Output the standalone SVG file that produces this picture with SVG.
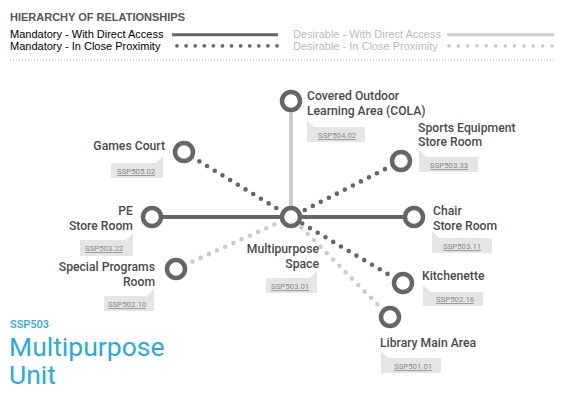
<svg xmlns="http://www.w3.org/2000/svg" width="565" height="400" viewBox="0 0 565 400">
<style>
.hdr{font-family:"Liberation Sans",Arial,sans-serif;font-weight:bold;font-size:10.5px;fill:#555}
.leg{font-family:"Liberation Sans",Arial,sans-serif;font-size:11px;fill:#000}
.legd{font-family:"Liberation Sans",Arial,sans-serif;font-size:11px;fill:#bbb}
.lbl{font-family:Roboto,"Liberation Sans",sans-serif;font-weight:500;font-size:12.2px;fill:#4a4a4a}
.tag{fill:#e5e5e5}
.tagt{font-family:Roboto,"Liberation Sans",sans-serif;font-size:7.8px;fill:#888;text-decoration:underline}
.node{fill:#fff;stroke:#666;stroke-width:4.5}
.mand{stroke:#666;stroke-width:4;fill:none}
.des{stroke:#ccc;stroke-width:4;fill:none}
.mdot{stroke:#666;stroke-width:4.6;stroke-linecap:round;stroke-dasharray:0 9;fill:none}
.ddot{stroke:#ccc;stroke-width:4.6;stroke-linecap:round;stroke-dasharray:0 9;fill:none}
.title{font-family:Roboto,"Liberation Sans",sans-serif;fill:#29abe2}
</style>

<g id="legend">
<text class="hdr" x="10" y="21" textLength="175" lengthAdjust="spacingAndGlyphs">HIERARCHY OF RELATIONSHIPS</text>
<text class="leg" x="10" y="37.5">Mandatory - With Direct Access</text>
<line x1="172" y1="34.7" x2="278" y2="34.7" stroke="#666" stroke-width="3"/>
<text class="leg" x="10" y="50">Mandatory - In Close Proximity</text>
<line x1="177" y1="45.8" x2="277" y2="45.8" stroke="#666" stroke-width="3.8" stroke-linecap="round" stroke-dasharray="0 9.0909"/>
<text class="legd" x="293" y="37.5">Desirable - With Direct Access</text>
<line x1="447" y1="34.7" x2="554" y2="34.7" stroke="#ccc" stroke-width="3"/>
<text class="legd" x="293" y="50">Desirable - In Close Proximity</text>
<line x1="449" y1="45.8" x2="552" y2="45.8" stroke="#ccc" stroke-width="3.8" stroke-linecap="round" stroke-dasharray="0 9.3636"/>
<line x1="10" y1="60" x2="555" y2="60" stroke="#aaa" stroke-width="1" stroke-dasharray="1 2"/>
</g>

<g id="connectors">
<line class="des" x1="291" y1="101" x2="291" y2="217"/>
<line class="mand" x1="152" y1="217" x2="291" y2="217"/>
<line class="mand" x1="414" y1="217" x2="291" y2="217"/>
<line class="mdot" x1="184" y1="152" x2="291" y2="217"/>
<line class="mdot" x1="401" y1="161" x2="291" y2="217"/>
<line class="mdot" x1="403" y1="283" x2="291" y2="217"/>
<line class="ddot" x1="176" y1="269" x2="291" y2="217"/>
<line class="ddot" x1="390" y1="317" x2="291" y2="217"/>
</g>

<g id="node-cola">
<circle class="node" cx="291" cy="101" r="9"/>
<text class="lbl" x="307" y="100">Covered Outdoor<tspan x="307" dy="14.5">Learning Area (COLA)</tspan></text>
<path class="tag" d="M307,120 L314,127 H365 V142 H307 Z"/>
<text class="tagt" x="318" y="138">SSP504.02</text>
</g>

<g id="node-games">
<circle class="node" cx="184" cy="152" r="9"/>
<text class="lbl" x="165" y="150" text-anchor="end">Games Court</text>
<path class="tag" d="M111,163 H156 L163,156 V178 H111 Z"/>
<text class="tagt" x="117" y="174">SSP505.02</text>
</g>

<g id="node-sports">
<circle class="node" cx="401" cy="161" r="9"/>
<text class="lbl" x="418" y="131.5">Sports Equipment<tspan x="418" dy="14.5">Store Room</tspan></text>
<path class="tag" d="M419,150 L426,157 H478 V172 H419 Z"/>
<text class="tagt" x="430" y="168">SSP503.33</text>
</g>

<g id="node-pe">
<circle class="node" cx="152" cy="217" r="9"/>
<text class="lbl" x="133" y="215.3" text-anchor="end">PE<tspan x="133" dy="14.5">Store Room</tspan></text>
<path class="tag" d="M80,240 H126 L133,233 V256 H80 Z"/>
<text class="tagt" x="85" y="251">SSP503.22</text>
</g>

<g id="node-chair">
<circle class="node" cx="414" cy="217" r="9"/>
<text class="lbl" x="433" y="215.3">Chair<tspan x="433" dy="14.5">Store Room</tspan></text>
<path class="tag" d="M432,231 L439,238 H492 V253 H432 Z"/>
<text class="tagt" x="443" y="249">SSP503.11</text>
</g>

<g id="node-center">
<circle class="node" cx="291" cy="217" r="9"/>
<text class="lbl" x="319" y="253.3" text-anchor="end">Multipurpose<tspan x="319" dy="14.5">Space</tspan></text>
<path class="tag" d="M266,278 H310 L317,271 V293 H266 Z"/>
<text class="tagt" x="271" y="289">SSP503.01</text>
</g>

<g id="node-special">
<circle class="node" cx="176" cy="269" r="9"/>
<text class="lbl" x="155" y="271.3" text-anchor="end">Special Programs<tspan x="155" dy="14.5">Room</tspan></text>
<path class="tag" d="M104,296 H147 L154,289 V311 H104 Z"/>
<text class="tagt" x="108" y="307">SSP502.10</text>
</g>

<g id="node-kitchenette">
<circle class="node" cx="403" cy="283" r="9"/>
<text class="lbl" x="422" y="280">Kitchenette</text>
<path class="tag" d="M423,285 L430,292 H483 V306 H423 Z"/>
<text class="tagt" x="436" y="302">SSP502.16</text>
</g>

<g id="node-library">
<circle class="node" cx="390" cy="317" r="9"/>
<text class="lbl" x="380" y="347">Library Main Area</text>
<path class="tag" d="M381,351 L388,358 H441 V373 H381 Z"/>
<text class="tagt" x="394" y="369">SSP501.01</text>
</g>

<g id="title">
<text class="title" x="10" y="328.3" font-size="11" font-weight="500">SSP503</text>
<text class="title" x="9" y="356" font-size="26.5">Multipurpose<tspan x="9" dy="28">Unit</tspan></text>
</g>
</svg>
